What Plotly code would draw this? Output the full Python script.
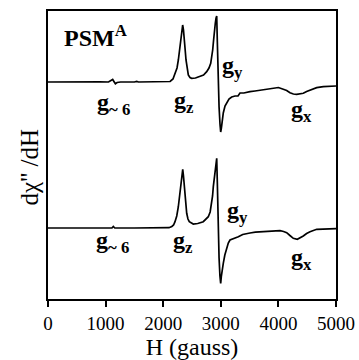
import plotly.graph_objects as go

# Magnetic field (gauss) and derivative signal (arbitrary units, relative to baseline)
H_top = [0, 300, 600, 900, 1050, 1090, 1123, 1150, 1170, 1200, 1260, 1500, 1540, 1570, 1900, 2050,
         2120, 2170, 2205, 2240, 2263, 2285, 2303, 2320, 2338, 2352, 2366, 2380, 2396, 2415, 2436,
         2465, 2494, 2560, 2639, 2700, 2755, 2795, 2825, 2845, 2859, 2875, 2888, 2905, 2917, 2929,
         2940, 2955, 2970, 2986, 2998, 3010, 3021, 3043, 3073, 3102, 3142, 3189, 3247, 3299, 3333,
         3400, 3450, 3507, 3594, 3738, 3854, 3941, 4000, 4085, 4144, 4201, 4260, 4317, 4380, 4432,
         4490, 4549, 4665, 4780, 4900, 5000]
S_top = [0, 0.3, 0, 0.2, 0, 1, 2.5, 0, -1.8, -0.5, 0, 0, 0.6, 0, 0, 0,
         0.5, 3, 8, 14, 22, 34, 45, 53, 57, 52, 45, 33, 22, 12, 7,
         4.5, 3.7, 4, 5.3, 7, 10.3, 14, 18.7, 25, 32, 42, 52, 59, 63.7, 66,
         40, 0, -25, -42, -50, -46, -40, -31, -24, -21, -17, -15, -14, -14, -11,
         -11, -10.7, -9.7, -9, -8, -6.5, -6.3, -5.5, -7.3, -8.5, -10.7, -12, -12.3, -12, -11.3,
         -9.5, -8, -5.7, -4.7, -4.2, -4]

H_bot = [0, 500, 1000, 1110, 1134, 1160, 1500, 2000, 2100, 2150, 2180, 2205, 2235, 2262, 2285,
         2304, 2322, 2339, 2352, 2366, 2385, 2408, 2430, 2453, 2523, 2600, 2696, 2740, 2783, 2815,
         2842, 2857, 2870, 2885, 2899, 2915, 2929, 2940, 2955, 2970, 2985, 2998, 3010, 3020, 3043,
         3070, 3102, 3130, 3160, 3247, 3304, 3380, 3450, 3507, 3600, 3738, 3900, 4028, 4090, 4144,
         4200, 4259, 4328, 4380, 4432, 4490, 4549, 4665, 4839, 5000]
S_bot = [0, 0, 0, 0, 1.5, 0, 0, 0, 0.3, 1.5, 3, 6.3, 12, 21, 33,
         44.7, 54, 58.7, 52, 41.3, 27, 14.7, 9, 6.3, 4, 4.5, 6.3, 8.5, 11.3, 16,
         24.7, 32, 41.3, 50, 58, 65, 69.7, 45, 0, -30, -48, -55.3, -48, -42, -35.3,
         -27, -20.3, -15, -12, -10.3, -8.7, -6.5, -5.3, -5, -4.2, -3.7, -3, -2.7, -3.5, -4.7,
         -7.5, -10.3, -11.3, -10, -8, -5.5, -3.7, -1.3, -0.7, -0.7]

OFFSET_TOP = 217
OFFSET_BOT = 71

x_ticks = [0, 1000, 2000, 3000, 4000, 5000]

FONT = "Liberation Serif, Times New Roman, serif"

fig = go.Figure()
fig.add_trace(go.Scatter(x=H_top, y=[v + OFFSET_TOP for v in S_top], mode="lines",
                         line=dict(color="black", width=1.7), showlegend=False))
fig.add_trace(go.Scatter(x=H_bot, y=[v + OFFSET_BOT for v in S_bot], mode="lines",
                         line=dict(color="black", width=1.7), showlegend=False))

labels = [
    ("<b>PSM<sup>A</sup></b>", 816, 263, 24),
    ("<b>g<sub>~ 6</sub></b>", 1130, 195, 24),
    ("<b>g<sub>z</sub></b>", 2361, 197, 24),
    ("<b>g<sub>y</sub></b>", 3200, 232, 24),
    ("<b>g<sub>x</sub></b>", 4400, 188, 24),
    ("<b>g<sub>~ 6</sub></b>", 1120, 57, 24),
    ("<b>g<sub>z</sub></b>", 2344, 57, 24),
    ("<b>g<sub>y</sub></b>", 3290, 87, 24),
    ("<b>g<sub>x</sub></b>", 4400, 40, 24),
]
for txt, xx, yy, fs in labels:
    fig.add_annotation(x=xx, y=yy, xref="x", yref="y", text=txt, showarrow=False,
                       xanchor="center", yanchor="middle",
                       font=dict(family=FONT, size=fs, color="black"))

fig.add_annotation(x=-0.065, y=0.458, xref="paper", yref="paper", text="dχ'' /dH",
                   textangle=-90, showarrow=False, xanchor="center", yanchor="middle",
                   font=dict(family=FONT, size=25, color="black"))

fig.update_layout(
    width=359, height=360,
    margin=dict(l=48, r=23, t=11, b=61),
    paper_bgcolor="white", plot_bgcolor="white",
    xaxis=dict(range=[0, 5000], tickvals=x_ticks, ticks="outside", ticklen=6, tickwidth=1.5,
               tickcolor="black", showline=True, linecolor="black", linewidth=1.5, mirror=True,
               showgrid=False, zeroline=False, automargin=False,
               tickfont=dict(family=FONT, size=19, color="black"),
               title=dict(text="H (gauss)", standoff=12,
                          font=dict(family=FONT, size=24, color="black"))),
    yaxis=dict(range=[0, 288], showticklabels=False, ticks="", showline=True,
               linecolor="black", linewidth=1.5, mirror=True, showgrid=False, zeroline=False),
)

fig.write_html("out.html")
